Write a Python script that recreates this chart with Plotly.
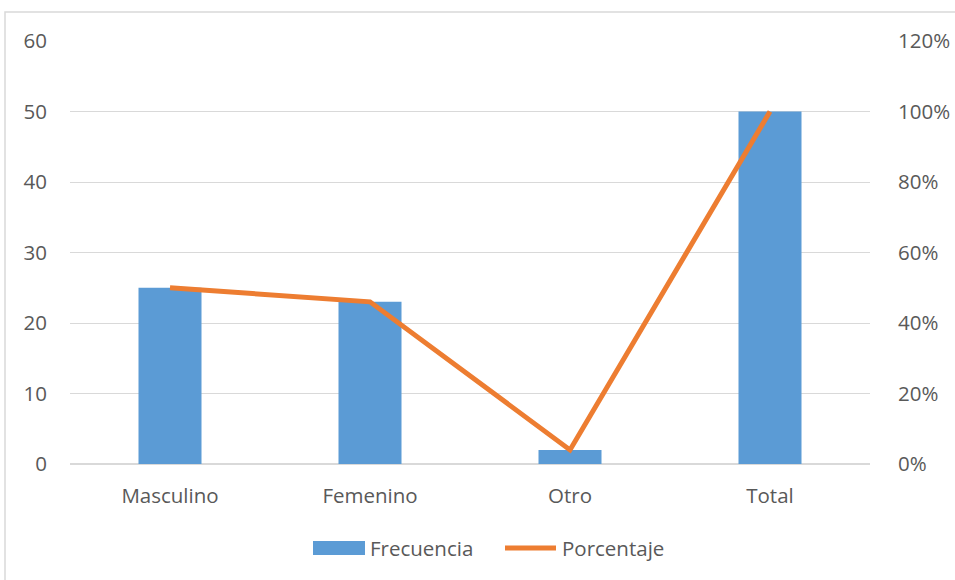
import plotly.graph_objects as go

categorias = ["Masculino", "Femenino", "Otro", "Total"]
frecuencia = [25, 23, 2, 50]
porcentaje = [0.50, 0.46, 0.04, 1.00]

AZUL = "#5B9BD5"
NARANJA = "#ED7D31"
GRIS_TEXTO = "#595959"
GRIS_LINEA = "#D9D9D9"
FUENTE = "Open Sans"
TAM = 20.5

W, H = 955, 580
L, R, T, B = 70, 85, 41, 116
pw, ph = W - L - R, H - T - B


def px_x(px):
    return (px - L) / pw


def px_y(py):
    return (H - B - py) / ph


fig = go.Figure()
fig.add_trace(go.Bar(
    x=categorias, y=frecuencia, name="Frecuencia",
    marker=dict(color=AZUL, line=dict(width=0)), width=0.315,
    showlegend=False,
))
fig.add_trace(go.Scatter(
    x=categorias, y=porcentaje, name="Porcentaje", yaxis="y2",
    mode="lines", line=dict(color=NARANJA, width=5),
    showlegend=False,
))

fig.update_layout(
    width=W, height=H,
    margin=dict(l=L, r=R, t=T, b=B, autoexpand=False),
    paper_bgcolor="white", plot_bgcolor="white",
    font=dict(family=FUENTE, size=TAM, color=GRIS_TEXTO),
    xaxis=dict(showgrid=False, showline=False, zeroline=False,
               ticks="", ticklabelstandoff=17, automargin=False,
               tickfont=dict(size=TAM, color=GRIS_TEXTO)),
    yaxis=dict(range=[0, 60], dtick=10, showgrid=True, gridcolor=GRIS_LINEA,
               gridwidth=1, zeroline=True, zerolinecolor=GRIS_LINEA,
               zerolinewidth=1.5, showline=False, ticks="",
               ticklabelstandoff=22, automargin=False,
               tickfont=dict(size=TAM, color=GRIS_TEXTO)),
    yaxis2=dict(range=[0, 1.2], dtick=0.2, tickformat=".0%",
                overlaying="y", side="right", showgrid=False,
                zeroline=False, showline=False, ticks="",
                ticklabelstandoff=27, automargin=False,
                tickfont=dict(size=TAM, color=GRIS_TEXTO)),
)

# marco del gráfico
fig.add_shape(type="rect", xref="paper", yref="paper",
              x0=px_x(5), x1=px_x(W + 10), y0=px_y(H + 10), y1=px_y(12),
              line=dict(color=GRIS_LINEA, width=1.5), fillcolor="rgba(0,0,0,0)",
              layer="below")

# leyenda inferior
fig.add_shape(type="rect", xref="paper", yref="paper",
              x0=px_x(313), x1=px_x(365), y0=px_y(555), y1=px_y(541),
              line=dict(width=0), fillcolor=AZUL)
fig.add_annotation(text="Frecuencia", xref="paper", yref="paper",
                   x=px_x(368), y=px_y(548), xanchor="left", yanchor="middle",
                   showarrow=False, font=dict(size=TAM, color=GRIS_TEXTO))
fig.add_shape(type="line", xref="paper", yref="paper",
              x0=px_x(505), x1=px_x(556), y0=px_y(548), y1=px_y(548),
              line=dict(color=NARANJA, width=5))
fig.add_annotation(text="Porcentaje", xref="paper", yref="paper",
                   x=px_x(560), y=px_y(548), xanchor="left", yanchor="middle",
                   showarrow=False, font=dict(size=TAM, color=GRIS_TEXTO))

fig.write_html("out.html")
